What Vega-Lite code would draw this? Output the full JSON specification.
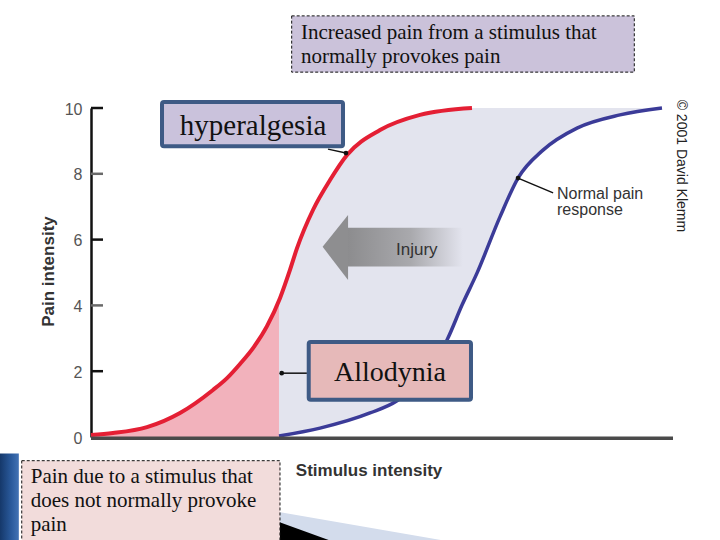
{
  "$schema": "https://vega.github.io/schema/vega-lite/v6.json",
  "autosize": {"type": "none"},
  "width": 582,
  "height": 329,
  "padding": {"left": 91, "top": 108, "right": 47, "bottom": 103},
  "background": "white",
  "config": {"view": {"stroke": null}},
  "encoding": {
    "x": {"field": "x", "type": "quantitative", "scale": {"domain": [0, 100]}, "axis": null},
    "y": {"field": "y", "type": "quantitative", "stack": null, "scale": {"domain": [0, 10]},
      "axis": {"values": [0, 2, 4, 6, 8, 10], "ticks": false, "grid": false, "title": null,
        "domainColor": "#111", "domainWidth": 2.5, "labelFont": "Liberation Sans", "labelFontSize": 16,
        "labelColor": "#555", "labelPadding": 9, "labelOffset": 1}}
  },
  "layer": [
    {
      "data": {"values": [{"x": -15.64, "y": -0.5, "x2": -12.4, "y2": -3.4}]},
      "mark": {"type": "rect", "color": {"gradient": "linear", "stops": [{"offset": 0, "color": "#15386a"}, {"offset": 0.6, "color": "#2a5a9c"}, {"offset": 1, "color": "#4373b5"}]}},
      "encoding": {"x2": {"field": "x2"}, "y2": {"field": "y2"}}
    },
    {
      "data": {"values": [{"x": 32.3, "y": -2.28, "y2": -3.4}, {"x": 60.1, "y": -3.13, "y2": -3.4}]},
      "mark": {"type": "area", "color": "#d3dcec"},
      "encoding": {"y2": {"field": "y2"}}
    },
    {
      "data": {"values": [{"x": 32.3, "y": -2.58, "y2": -3.4}, {"x": 41.9, "y": -3.2, "y2": -3.4}]},
      "mark": {"type": "area", "color": "#000000"},
      "encoding": {"y2": {"field": "y2"}}
    },
    {
      "data": {"values": [
        {"x": 0, "y": 0.06}, {"x": 3.78, "y": 0.12}, {"x": 9.62, "y": 0.3}, {"x": 15.29, "y": 0.73},
        {"x": 20.96, "y": 1.43}, {"x": 23.37, "y": 1.79}, {"x": 25.6, "y": 2.22}, {"x": 28.0, "y": 2.74},
        {"x": 30.24, "y": 3.37}, {"x": 32.3, "y": 4.15}
      ]},
      "mark": {"type": "area", "color": "#f2b2bc", "interpolate": "monotone"}
    },
    {
      "data": {"values": [
        {"x": 32.3, "y": 4.15}, {"x": 32.47, "y": 4.22}, {"x": 34.19, "y": 5.08}, {"x": 35.4, "y": 5.74},
        {"x": 38.14, "y": 6.9}, {"x": 41.07, "y": 7.81}, {"x": 43.99, "y": 8.57}, {"x": 49.66, "y": 9.33},
        {"x": 56.53, "y": 9.79}, {"x": 65.46, "y": 10}, {"x": 98.11, "y": 10}
      ]},
      "mark": {"type": "area", "color": "#e3e4ee", "interpolate": "monotone"}
    },
    {
      "data": {"name": "blue"},
      "mark": {"type": "area", "color": "#ffffff", "interpolate": "monotone"}
    },
    {
      "data": {"values": [{"x": 44.0, "y": 6.36, "x2": 63.9, "y2": 5.18}]},
      "mark": {"type": "rect", "color": {"gradient": "linear", "stops": [{"offset": 0, "color": "#8c8c8e"}, {"offset": 0.55, "color": "#a9a9ad"}, {"offset": 1, "color": "#e3e4ee"}]}},
      "encoding": {"x2": {"field": "x2"}, "y2": {"field": "y2"}}
    },
    {
      "data": {"values": [{"x": 39.8, "y": 5.78, "y2": 5.78}, {"x": 44.17, "y": 6.75, "y2": 4.77}]},
      "mark": {"type": "area", "color": "#8e8e90"},
      "encoding": {"y2": {"field": "y2"}}
    },
    {
      "data": {"values": [
        {"x": 0, "y": 0.06}, {"x": 3.78, "y": 0.12}, {"x": 9.62, "y": 0.3}, {"x": 15.29, "y": 0.73},
        {"x": 20.96, "y": 1.43}, {"x": 23.37, "y": 1.79}, {"x": 25.6, "y": 2.22}, {"x": 28.0, "y": 2.74},
        {"x": 30.24, "y": 3.37}, {"x": 32.47, "y": 4.22}, {"x": 34.19, "y": 5.08}, {"x": 35.4, "y": 5.74},
        {"x": 38.14, "y": 6.9}, {"x": 41.07, "y": 7.81}, {"x": 43.99, "y": 8.57}, {"x": 49.66, "y": 9.33},
        {"x": 56.53, "y": 9.79}, {"x": 65.46, "y": 10}
      ]},
      "mark": {"type": "line", "color": "#e41f34", "strokeWidth": 4, "interpolate": "monotone"}
    },
    {
      "data": {"name": "blue"},
      "mark": {"type": "line", "color": "#3b3b98", "strokeWidth": 3.5, "interpolate": "monotone"}
    },
    {
      "data": {"values": [{"x": 0, "x2": 100, "y": -0.04}]},
      "mark": {"type": "rule", "color": "#4a4a4a", "strokeWidth": 3.5},
      "encoding": {"x2": {"field": "x2"}}
    },
    {
      "data": {"values": [{"x": 0, "x2": 2.06, "y": 2}, {"x": 0, "x2": 2.06, "y": 6}, {"x": 0, "x2": 2.06, "y": 10}]},
      "mark": {"type": "rule", "color": "#111", "strokeWidth": 2.5},
      "encoding": {"x2": {"field": "x2"}}
    },
    {
      "data": {"values": [{"x": 0, "x2": 2.06, "y": 4}, {"x": 0, "x2": 2.06, "y": 8}]},
      "mark": {"type": "rule", "color": "#6a6a6a", "strokeWidth": 2.5},
      "encoding": {"x2": {"field": "x2"}}
    },
    {
      "data": {"values": [
        {"x": 40.72, "y": 8.75, "x2": 43.81, "y2": 8.63},
        {"x": 32.77, "y": 1.94, "x2": 37.1, "y2": 1.94},
        {"x": 73.37, "y": 7.87, "x2": 79.4, "y2": 7.42}
      ]},
      "mark": {"type": "rule", "color": "#111", "strokeWidth": 1.5},
      "encoding": {"x2": {"field": "x2"}, "y2": {"field": "y2"}}
    },
    {
      "data": {"values": [{"x": 43.81, "y": 8.63}, {"x": 32.77, "y": 1.94}, {"x": 73.37, "y": 7.87}]},
      "mark": {"type": "point", "filled": true, "color": "#111", "size": 22, "opacity": 1}
    },
    {
      "data": {"values": [{"x": 34.48, "y": 12.8, "x2": 93.35, "y2": 11.09}]},
      "mark": {"type": "rect", "fill": "#cbc2da", "stroke": "#111", "strokeWidth": 1, "strokeDash": [3, 2]},
      "encoding": {"x2": {"field": "x2"}, "y2": {"field": "y2"}}
    },
    {
      "data": {"values": [{"x": -11.9, "y": -0.72, "x2": 32.47, "y2": -3.4}]},
      "mark": {"type": "rect", "fill": "#f2dcdb", "stroke": "#111", "strokeWidth": 1, "strokeDash": [3, 2]},
      "encoding": {"x2": {"field": "x2"}, "y2": {"field": "y2"}}
    },
    {
      "data": {"values": [{"x": 12.2, "y": 10.18, "x2": 43.3, "y2": 8.84}]},
      "mark": {"type": "rect", "fill": "#cac2dc", "stroke": "#3e5a85", "strokeWidth": 4, "cornerRadius": 2},
      "encoding": {"x2": {"field": "x2"}, "y2": {"field": "y2"}}
    },
    {
      "data": {"values": [{"x": 37.41, "y": 2.89, "x2": 65.29, "y2": 1.13}]},
      "mark": {"type": "rect", "fill": "#e6b9b9", "stroke": "#3e5a85", "strokeWidth": 4, "cornerRadius": 2},
      "encoding": {"x2": {"field": "x2"}, "y2": {"field": "y2"}}
    },
    {
      "data": {"values": [
        {"x": 36.08, "y": 12.1, "label": "Increased pain from a stimulus that"},
        {"x": 36.08, "y": 11.37, "label": "normally provokes pain"},
        {"x": -10.36, "y": -1.4, "label": "Pain due to a stimulus that"},
        {"x": -10.36, "y": -2.13, "label": "does not normally provoke"},
        {"x": -10.36, "y": -2.85, "label": "pain"}
      ]},
      "mark": {"type": "text", "font": "Liberation Serif", "fontSize": 21, "color": "#111", "align": "left", "baseline": "alphabetic"},
      "encoding": {"text": {"field": "label"}}
    },
    {
      "data": {"values": [{"x": 27.84, "y": 9.18, "label": "hyperalgesia"}]},
      "mark": {"type": "text", "font": "Liberation Serif", "fontSize": 29, "color": "#111", "align": "center", "baseline": "alphabetic"},
      "encoding": {"text": {"field": "label"}}
    },
    {
      "data": {"values": [{"x": 51.37, "y": 1.71, "label": "Allodynia"}]},
      "mark": {"type": "text", "font": "Liberation Serif", "fontSize": 28, "color": "#111", "align": "center", "baseline": "alphabetic"},
      "encoding": {"text": {"field": "label"}}
    },
    {
      "data": {"values": [
        {"x": 80.07, "y": 7.22, "label": "Normal pain"},
        {"x": 80.07, "y": 6.74, "label": "response"}
      ]},
      "mark": {"type": "text", "font": "Liberation Sans", "fontSize": 16, "color": "#333", "align": "left", "baseline": "alphabetic"},
      "encoding": {"text": {"field": "label"}}
    },
    {
      "data": {"values": [{"x": 52.4, "y": 5.53, "label": "Injury"}]},
      "mark": {"type": "text", "font": "Liberation Sans", "fontSize": 17, "color": "#333", "align": "left", "baseline": "alphabetic"},
      "encoding": {"text": {"field": "label"}}
    },
    {
      "data": {"values": [{"x": 35.2, "y": -1.19, "label": "Stimulus intensity"}]},
      "mark": {"type": "text", "font": "Liberation Sans", "fontSize": 17, "fontWeight": "bold", "color": "#333", "align": "left", "baseline": "alphabetic"},
      "encoding": {"text": {"field": "label"}}
    },
    {
      "data": {"values": [{"x": -6.44, "y": 5.03, "label": "Pain intensity"}]},
      "mark": {"type": "text", "font": "Liberation Sans", "fontSize": 17, "fontWeight": "bold", "color": "#333", "align": "center", "baseline": "alphabetic", "angle": 270},
      "encoding": {"text": {"field": "label"}}
    },
    {
      "data": {"values": [{"x": 101.4, "y": 8.24, "label": "© 2001 David Klemm"}]},
      "mark": {"type": "text", "font": "Liberation Sans", "fontSize": 14, "color": "#222", "align": "center", "baseline": "middle", "angle": 90},
      "encoding": {"text": {"field": "label"}}
    }
  ],
  "datasets": {
    "blue": [
      {"x": 32.3, "y": 0.03}, {"x": 39.35, "y": 0.27}, {"x": 47.94, "y": 0.73}, {"x": 52.58, "y": 1.1},
      {"x": 56.5, "y": 1.7}, {"x": 59.0, "y": 2.3}, {"x": 61.17, "y": 2.95}, {"x": 63.75, "y": 4.01},
      {"x": 66.32, "y": 4.98}, {"x": 70.27, "y": 6.69}, {"x": 73.37, "y": 7.87}, {"x": 77.66, "y": 8.72},
      {"x": 83.51, "y": 9.39}, {"x": 90.89, "y": 9.79}, {"x": 98.11, "y": 10}
    ]
  }
}
